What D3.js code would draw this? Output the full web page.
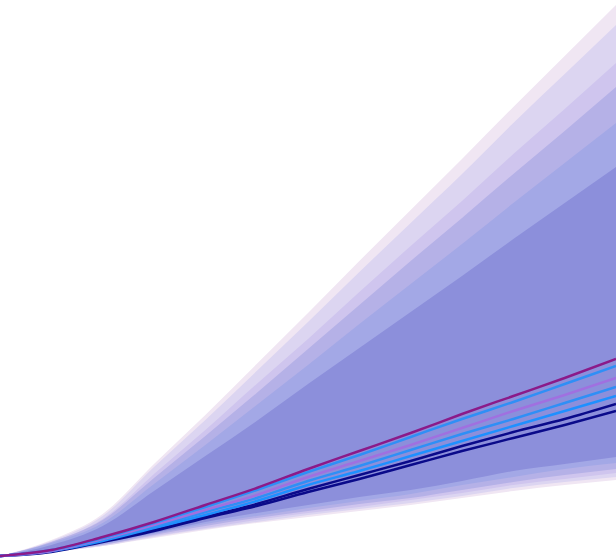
<!DOCTYPE html>
<html>
<head>
<meta charset="utf-8">
<script src="https://cdn.jsdelivr.net/npm/d3@7"></script>
<style>
  body{margin:0;background:#fff;}
  svg{display:block;}
</style>
</head>
<body>
<div class="container"></div>
<script>
// time steps
const steps=d3.range(13);

// fan bands, outermost first: upper and lower bounds
const upper0=[0,16,42,92,141,192,243,295,346,397,449,500,551];
const upper1=[0,15,40,89,136,185,234,284,333,382,433,482,531];
const upper2=[0,14,37,82,126,172,217,264,310,355,402,447,493];
const upper3=[0,14,36,78,120,163,207,251,295,338,382,425,469];
const upper4=[0,13,33,72,111,151,191,232,272,312,353,393,433];
const upper5=[0,11,30,65,100,135,172,208,244,280,317,353,389];

const lower0=[0,4,10,18,26,33,39,45,51,58,65,71,76];
const lower1=[0,4,10,19,27,34,41,47,53,60,68,74,79];
const lower2=[0,4,11,20,28,36,43,49,56,63,71,77,83];
const lower3=[0,5,11,21,30,38,45,52,58,66,74,81,87];
const lower4=[0,5,12,22,32,40,48,55,62,71,79,87,93];
const lower5=[0,5,13,23,34,43,51,59,66,75,85,92,99];

// scenario lines, top to bottom
const line1=[0,6,19,34,51,68,87,105,123,142,160,178,197];
const line2=[0,6,18,33,49,66,84,101,119,137,154,172,190];
const line3=[0,5,17,31,46,61,79,95,111,128,145,161,178];
const line4=[0,5,16,29,44,58,75,90,106,122,137,153,169];
const line5=[0,5,15,28,41,55,71,85,100,115,130,145,160];
const line6=[0,5,15,26,39,52,67,81,95,110,124,137,152];
const line7=[0,4,14,25,38,50,64,77,91,105,118,131,145];

const bandColors=["#f0e6f3","#dcd5f1","#cfc5ee","#b5b1e7","#a3a8e6","#8c8fdb"];
const lineColors=["#8b1a89","#2f8ff6","#a070e0","#2f8ff6","#1e90ff","#0a0a8a","#0a0a8a"];

const W=616,H=558;

const svg=d3.select('.container')
  .append("svg")
  .attr("width",W)
  .attr("height",H);

let x=d3.scaleLinear().domain([0,12]).range([0,W]);
let y=d3.scaleLinear().domain([0,551]).range([556,5]);

let bands=[
  [upper0,lower0],[upper1,lower1],[upper2,lower2],
  [upper3,lower3],[upper4,lower4],[upper5,lower5]
];

let area=d3.area()
  .x((d)=>x(d.t))
  .y0((d)=>y(d.lo))
  .y1((d)=>y(d.hi))
  .curve(d3.curveMonotoneX);

bands.forEach((b,i)=>{
  let pts=steps.map((t)=>({t:t,hi:b[0][t],lo:b[1][t]}));
  svg.append("path")
    .datum(pts)
    .attr("d",area)
    .attr("fill",bandColors[i]);
});

let lines=[line1,line2,line3,line4,line5,line6,line7];

let lineGen=d3.line()
  .x((d)=>x(d.t))
  .y((d)=>y(d.v))
  .curve(d3.curveMonotoneX);

// draw bottom lines first so the purple one sits on top
for(let i=lines.length-1;i>=0;i--){
  let pts=steps.map((t)=>({t:t,v:lines[i][t]}));
  svg.append("path")
    .datum(pts)
    .attr("d",lineGen)
    .attr("fill","none")
    .attr("stroke",lineColors[i])
    .attr("stroke-width",2.4);
}
</script>
</body>
</html>
